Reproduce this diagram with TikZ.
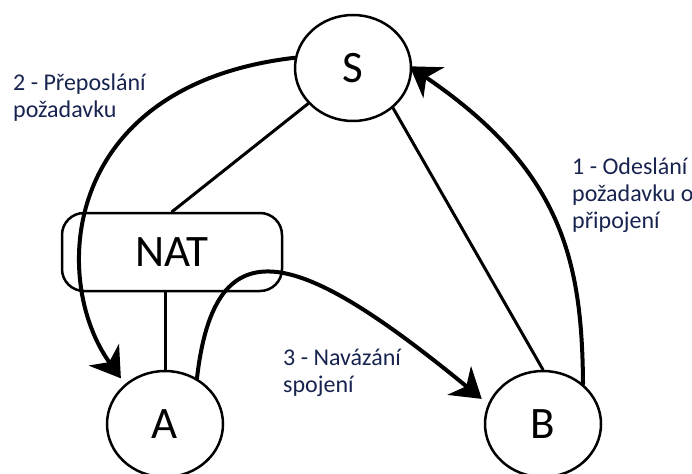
\documentclass[tikz,border=0pt]{standalone}
\usepackage{fontspec}
\setmainfont{Carlito}
\usetikzlibrary{shapes.geometric,arrows.meta}
\definecolor{LabelNavy}{HTML}{18244F}

\begin{document}
\begin{tikzpicture}[x=1pt,y=-1pt,line cap=round,line join=round,
  station/.style={draw,ellipse,line width=2.5pt,minimum width=116pt,minimum height=106pt,inner sep=0pt,font=\fontsize{45}{50}\selectfont},
  gateway/.style={draw,rounded corners=22pt,line width=2.5pt,minimum width=220pt,minimum height=78pt,font=\fontsize{45}{50}\selectfont},
  link/.style={line width=3pt},
  flow/.style={line width=4pt,-{Stealth[length=29pt,width=37pt,inset=9pt]}},
  msglabel/.style={align=left,anchor=base west,text=LabelNavy,inner sep=0pt,font=\fontsize{24}{27}\selectfont}]
  \useasboundingbox (0,0) rectangle (692,473);
  \node[station] (S) at (353,68) {S};
  \node[station] (A) at (165,424) {A};
  \node[station] (B) at (543,424) {B};
  \node[gateway] (NAT) at (172,252) {NAT};
  % plain links
  \draw[link] (S) -- (NAT.north);
  \draw[link] (A) -- (A |- NAT.south);
  \draw[link] (S.-45) -- (B.north);
  % messages
  \draw[flow,shorten >=-3pt] (B.45) .. controls (582,260) and (562,170) .. (S.east);
  \draw[flow,shorten >=7pt] (S.170) .. controls (60,85) and (50,280) .. (A.135);
  \draw[flow,shorten >=8pt] (A.55) .. controls (215,220) and (300,250) .. (B.160);
  % labels (base = last line)
  \node[msglabel] (lblrequest) at (572,228) {1 - Odeslání\\požadavku o\\připojení};
  \node[msglabel] (lblforward) at (13,118) {2 - Přeposlání\\požadavku};
  \node[msglabel] (lblconnect) at (283,392) {3 - Navázání\\spojení};
\end{tikzpicture}
\end{document}
